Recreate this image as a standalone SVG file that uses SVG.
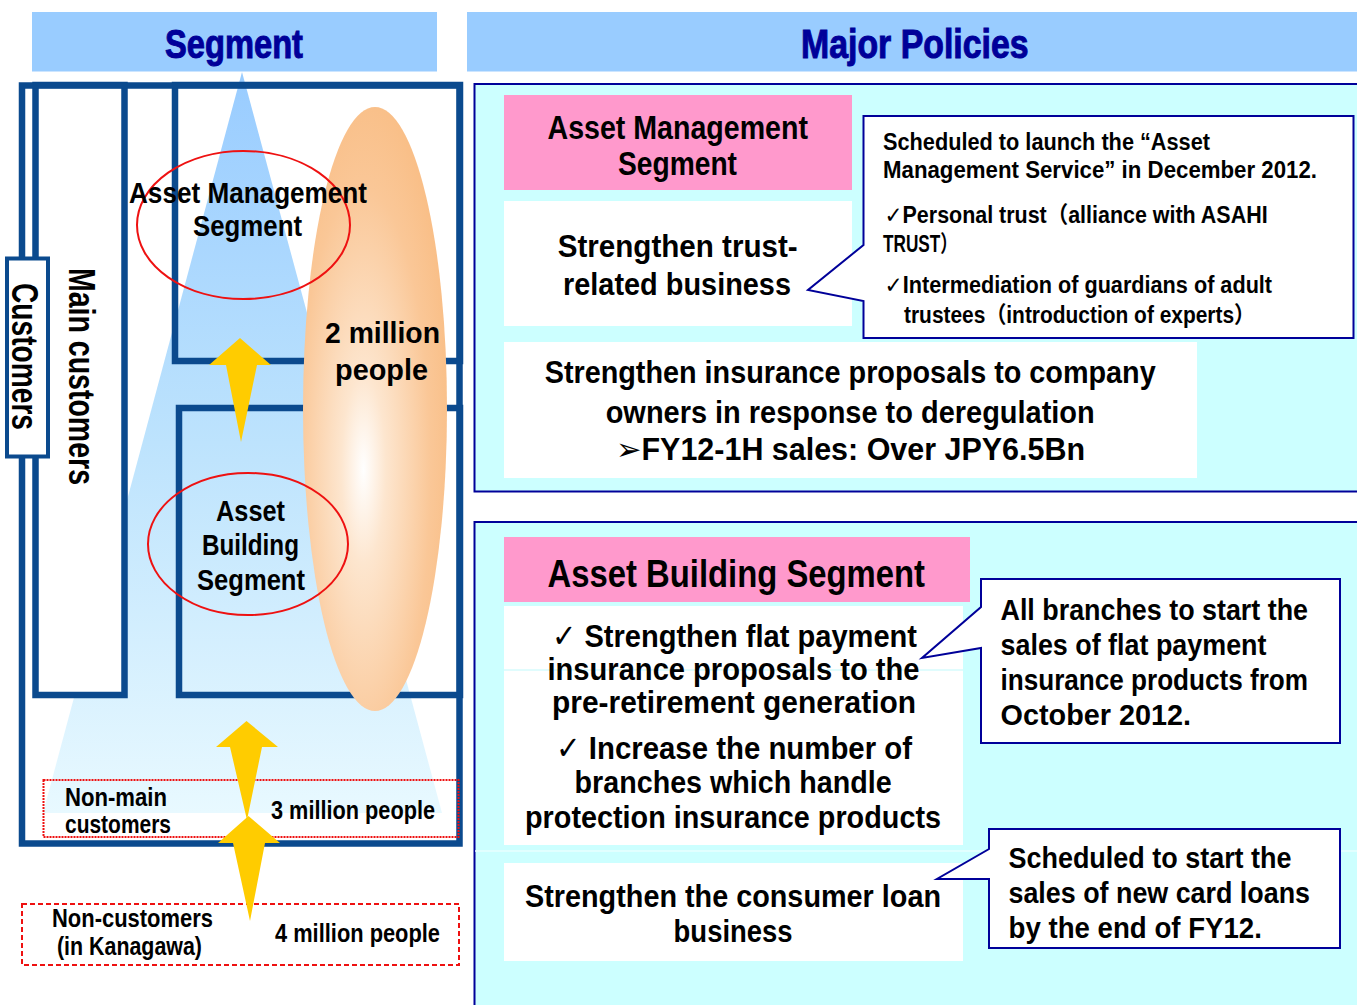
<svg xmlns="http://www.w3.org/2000/svg" width="1357" height="1005" viewBox="0 0 1357 1005">
<defs>
<style>
.t{font-family:"Liberation Sans","DejaVu Sans","Noto Sans CJK JP",sans-serif;font-weight:bold;fill:#000;}
.hd{fill:#000099;stroke:#000099;stroke-width:1;font-size:40px;}
.frame{fill:none;stroke:#0b4a8e;stroke-width:6.5;}
.redel{fill:none;stroke:#ee1111;stroke-width:2;}
.arrow{fill:#ffcc00;}
.panel{fill:#ccffff;stroke:#000099;stroke-width:2;}
.pink{fill:#ff99cc;}
.wbox{fill:#ffffff;}
.callout{fill:#ffffff;stroke:#000099;stroke-width:2;}
</style>
<linearGradient id="triG" x1="0" y1="72" x2="0" y2="813" gradientUnits="userSpaceOnUse">
<stop offset="0" stop-color="#99ccff"/>
<stop offset="0.5" stop-color="#bde3fd"/>
<stop offset="1" stop-color="#e8f9ff"/>
</linearGradient>
<radialGradient id="ovalG" cx="0.42" cy="0.6" r="0.62">
<stop offset="0" stop-color="#ffffff"/>
<stop offset="0.25" stop-color="#fde6cf"/>
<stop offset="0.75" stop-color="#fac797"/>
<stop offset="1" stop-color="#f9bf88"/>
</radialGradient>
</defs>

<rect width="1357" height="1005" fill="#ffffff"/>

<!-- Headers -->
<g id="header-segment">
<rect x="32" y="12" width="405" height="59.5" fill="#99ccff"/>
<text class="t hd" x="165" y="58" textLength="138" lengthAdjust="spacingAndGlyphs">Segment</text>
</g>
<g id="header-policies">
<rect x="467" y="12" width="890" height="59.5" fill="#99ccff"/>
<text class="t hd" x="801" y="58.3" textLength="227.6" lengthAdjust="spacingAndGlyphs">Major Policies</text>
</g>

<!-- Left diagram -->
<g id="customers-frame">
<rect x="22" y="85.5" width="437.5" height="758" fill="#ffffff"/>
</g>
<g id="pyramid">
<polygon points="242,72 442,813 43,813" fill="url(#triG)"/>
</g>
<g id="main-customers">
<rect class="frame" x="35.5" y="85" width="89" height="610" fill="#ffffff" style="fill:#ffffff"/>
<text class="t" font-size="37" transform="translate(69,268) rotate(90)" textLength="217" lengthAdjust="spacingAndGlyphs">Main customers</text>
</g>
<g id="am-box">
<rect class="frame" x="175" y="85" width="285" height="276"/>
</g>
<g id="ab-box">
<rect class="frame" x="179" y="408" width="281" height="287"/>
</g>
<g id="customers-outline">
<rect class="frame" x="22" y="85.5" width="437.5" height="758"/>
</g>
<g id="customers-label">
<rect x="7" y="258.5" width="41" height="198" fill="#ffffff" stroke="#0b4a8e" stroke-width="4"/>
<text class="t" font-size="37" transform="translate(12,283) rotate(90)" textLength="147" lengthAdjust="spacingAndGlyphs">Customers</text>
</g>
<g id="two-million">
<ellipse cx="375" cy="409" rx="72" ry="302" fill="url(#ovalG)"/>
<text class="t" font-size="30" x="325" y="343" textLength="115" lengthAdjust="spacingAndGlyphs">2 million</text>
<text class="t" font-size="30" x="335" y="380" textLength="93" lengthAdjust="spacingAndGlyphs">people</text>
</g>
<g id="am-segment">
<ellipse class="redel" cx="243.5" cy="225" rx="106.5" ry="74"/>
<text class="t" font-size="29" x="129" y="203" textLength="238" lengthAdjust="spacingAndGlyphs">Asset Management</text>
<text class="t" font-size="29" x="193" y="236" textLength="109" lengthAdjust="spacingAndGlyphs">Segment</text>
</g>
<g id="ab-segment">
<ellipse class="redel" cx="248" cy="544" rx="100" ry="71"/>
<text class="t" font-size="29" x="216" y="521" textLength="69" lengthAdjust="spacingAndGlyphs">Asset</text>
<text class="t" font-size="29" x="202" y="555" textLength="97" lengthAdjust="spacingAndGlyphs">Building</text>
<text class="t" font-size="29" x="197" y="590" textLength="108" lengthAdjust="spacingAndGlyphs">Segment</text>
</g>
<g id="non-main">
<rect x="43.5" y="780" width="415" height="57" fill="none" stroke="#ee1111" stroke-width="2" stroke-dasharray="2,1"/>
<text class="t" font-size="25" x="65" y="806" textLength="102" lengthAdjust="spacingAndGlyphs">Non-main</text>
<text class="t" font-size="25" x="65" y="833" textLength="106" lengthAdjust="spacingAndGlyphs">customers</text>
<text class="t" font-size="25" x="271" y="819" textLength="164" lengthAdjust="spacingAndGlyphs">3 million people</text>
</g>
<g id="non-customers">
<rect x="22" y="904" width="437" height="61" fill="none" stroke="#ee1111" stroke-width="2" stroke-dasharray="5,3"/>
<text class="t" font-size="25" x="52" y="927" textLength="161" lengthAdjust="spacingAndGlyphs">Non-customers</text>
<text class="t" font-size="25" x="57" y="955" textLength="145" lengthAdjust="spacingAndGlyphs">(in Kanagawa)</text>
<text class="t" font-size="25" x="275" y="942" textLength="165" lengthAdjust="spacingAndGlyphs">4 million people</text>
</g>

<!-- Connectors -->
<g id="connectors">
<polygon class="arrow" points="240,338 271,365 257,365 241,442 226,365 209,365"/>
<polygon class="arrow" points="246.5,721 278,747 262,747 247,820 230,747 216,747"/>
<polygon class="arrow" points="248.5,816 280,843 265,843 250,921 233,843 218,843"/>
</g>

<!-- Right: Asset Management policies -->
<g id="panel-am">
<rect class="panel" x="474.5" y="84" width="900" height="407.5"/>
</g>
<g id="am-title">
<rect class="pink" x="504" y="95" width="348" height="95"/>
<text class="t" font-size="34" x="547.5" y="139" textLength="260.5" lengthAdjust="spacingAndGlyphs">Asset Management</text>
<text class="t" font-size="34" x="618" y="175" textLength="119" lengthAdjust="spacingAndGlyphs">Segment</text>
</g>
<g id="am-trust">
<rect class="wbox" x="504" y="201" width="348" height="125"/>
<text class="t" font-size="32" x="557.7" y="257" textLength="240" lengthAdjust="spacingAndGlyphs">Strengthen trust-</text>
<text class="t" font-size="32" x="563" y="295" textLength="228" lengthAdjust="spacingAndGlyphs">related business</text>
</g>
<g id="am-callout">
<path class="callout" d="M863.5,116 H1353.5 V338 H863.5 V301 L808,290 L863.5,245 Z"/>
<text class="t" font-size="23" x="883" y="150" textLength="327" lengthAdjust="spacingAndGlyphs">Scheduled to launch the “Asset</text>
<text class="t" font-size="23" x="883" y="178.3" textLength="434" lengthAdjust="spacingAndGlyphs">Management Service” in December 2012.</text>
<text class="t" font-size="23" x="884.6" y="222.7" textLength="383" lengthAdjust="spacingAndGlyphs">✓Personal trust（alliance with ASAHI</text>
<text class="t" font-size="23" x="883" y="251.7" textLength="74.5" lengthAdjust="spacingAndGlyphs">TRUST）</text>
<text class="t" font-size="23" x="884.6" y="293.3" textLength="387.5" lengthAdjust="spacingAndGlyphs">✓Intermediation of guardians of adult</text>
<text class="t" font-size="23" x="904" y="322.7" textLength="351" lengthAdjust="spacingAndGlyphs">trustees（introduction of experts）</text>
</g>
<g id="am-insurance">
<rect class="wbox" x="504" y="342" width="693" height="136"/>
<text class="t" font-size="31" x="544.7" y="383" textLength="611" lengthAdjust="spacingAndGlyphs">Strengthen insurance proposals to company</text>
<text class="t" font-size="31" x="605.7" y="422.5" textLength="489" lengthAdjust="spacingAndGlyphs">owners in response to deregulation</text>
<text class="t" font-size="31" x="616" y="460" textLength="469" lengthAdjust="spacingAndGlyphs">➢FY12-1H sales: Over JPY6.5Bn</text>
</g>

<!-- Right: Asset Building policies -->
<g id="panel-ab">
<rect class="panel" x="474.5" y="522" width="900" height="500"/>
<line x1="475" y1="851" x2="1357" y2="851" stroke="#e8ffff" stroke-width="1.5"/>
</g>
<g id="ab-title">
<rect class="pink" x="504" y="537" width="466" height="65"/>
<text class="t" font-size="39" x="547.5" y="587" textLength="377.5" lengthAdjust="spacingAndGlyphs">Asset Building Segment</text>
</g>
<g id="ab-flat">
<rect class="wbox" x="504" y="606" width="459" height="239"/>
<line x1="504" y1="670" x2="963" y2="670" stroke="#d6fbfd" stroke-width="1.5"/>
<text class="t" font-size="32" x="552" y="646.7" textLength="365" lengthAdjust="spacingAndGlyphs">✓ Strengthen flat payment</text>
<text class="t" font-size="32" x="547.5" y="680" textLength="372" lengthAdjust="spacingAndGlyphs">insurance proposals to the</text>
<text class="t" font-size="32" x="552" y="713.3" textLength="364" lengthAdjust="spacingAndGlyphs">pre-retirement generation</text>
<text class="t" font-size="32" x="556" y="759.3" textLength="356" lengthAdjust="spacingAndGlyphs">✓ Increase the number of</text>
<text class="t" font-size="32" x="574.6" y="793.3" textLength="317" lengthAdjust="spacingAndGlyphs">branches which handle</text>
<text class="t" font-size="32" x="525" y="828.3" textLength="416" lengthAdjust="spacingAndGlyphs">protection insurance products</text>
</g>
<g id="ab-callout-flat">
<path class="callout" d="M981,579 H1340 V743 H981 V648 L922,658 L981,607 Z"/>
<text class="t" font-size="29" x="1000.5" y="620" textLength="307.5" lengthAdjust="spacingAndGlyphs">All branches to start the</text>
<text class="t" font-size="29" x="1000.5" y="655" textLength="266" lengthAdjust="spacingAndGlyphs">sales of flat payment</text>
<text class="t" font-size="29" x="1000.5" y="690" textLength="307.5" lengthAdjust="spacingAndGlyphs">insurance products from</text>
<text class="t" font-size="29" x="1000.5" y="725" textLength="190.6" lengthAdjust="spacingAndGlyphs">October 2012.</text>
</g>
<g id="ab-loan">
<rect class="wbox" x="504" y="863" width="459" height="98"/>
<text class="t" font-size="32" x="525" y="907.3" textLength="416" lengthAdjust="spacingAndGlyphs">Strengthen the consumer loan</text>
<text class="t" font-size="32" x="673.6" y="941.7" textLength="119" lengthAdjust="spacingAndGlyphs">business</text>
</g>
<g id="ab-callout-loan">
<path class="callout" d="M989,829 H1340 V948 H989 V879 L937,879 L989,849 Z"/>
<text class="t" font-size="29" x="1008.5" y="868.3" textLength="283" lengthAdjust="spacingAndGlyphs">Scheduled to start the</text>
<text class="t" font-size="29" x="1008.5" y="903.3" textLength="301.5" lengthAdjust="spacingAndGlyphs">sales of new card loans</text>
<text class="t" font-size="29" x="1008.5" y="938.3" textLength="253.4" lengthAdjust="spacingAndGlyphs">by the end of FY12.</text>
</g>
</svg>
